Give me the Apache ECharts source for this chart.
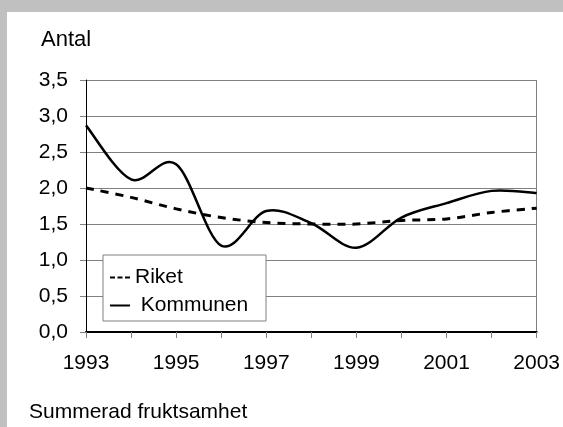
<!DOCTYPE html>
<html>
<head>
<meta charset="utf-8">
<title>Summerad fruktsamhet</title>
<script src="https://cdn.jsdelivr.net/npm/echarts@6/dist/echarts.min.js"></script>
<style>
html, body {
	margin: 0;
	padding: 0;
	background: #c0c0c0;
}
#chart {
	width: 563px;
	height: 427px;
}
</style>
</head>
<body>
<div id="chart"></div>
<script type="text/javascript">
    // år på x-axeln
    var years = ['1993', '1994', '1995', '1996', '1997', '1998', '1999', '2000', '2001', '2002', '2003'];
    // avlästa värden
    var riket = [2.00, 1.87, 1.71, 1.59, 1.52, 1.50, 1.50, 1.55, 1.57, 1.66, 1.72];
    var kommunen = [2.87, 2.12, 2.33, 1.20, 1.68, 1.51, 1.17, 1.59, 1.79, 1.96, 1.93];
    var seriesNames = ['Riket', 'Kommunen'];

    var font = 'Liberation Sans, Arial, sans-serif';
    var myChart = echarts.init(document.getElementById('chart'));

    // mjuk kurva som i Excel (Catmull-Rom, 1/6)
    function smoothLine(values, dash, width) {
        return function (params, api) {
            if (params.dataIndex !== 0) return null;
            var pts = values.map(function (v, i) { return api.coord([i, v]); });
            var d = 'M' + pts[0][0] + ',' + pts[0][1];
            for (var i = 0; i < pts.length - 1; i++) {
                var p0 = pts[i - 1] || pts[i];
                var p1 = pts[i];
                var p2 = pts[i + 1];
                var p3 = pts[i + 2] || p2;
                var c1x = p1[0] + (p2[0] - p0[0]) / 6;
                var c1y = p1[1] + (p2[1] - p0[1]) / 6;
                var c2x = p2[0] - (p3[0] - p1[0]) / 6;
                var c2y = p2[1] - (p3[1] - p1[1]) / 6;
                d += 'C' + c1x + ',' + c1y + ',' + c2x + ',' + c2y + ',' + p2[0] + ',' + p2[1];
            }
            return {
                type: 'path',
                shape: {pathData: d},
                style: {fill: 'none', stroke: '#000', lineWidth: width, lineDash: dash}
            };
        };
    }

    option = {
        backgroundColor: '#c0c0c0',
        animation: false,
        graphic: [{
            type: 'rect',
            z: 0,
            shape: {x: 7, y: 12, width: 556, height: 415},
            style: {fill: '#ffffff'}
        }, {
            type: 'text',
            left: 41,
            top: 29,
            style: {text: 'Antal', font: '22px ' + font, fill: '#000'}
        }, {
            type: 'text',
            left: 29,
            top: 402,
            style: {text: 'Summerad fruktsamhet', font: '21px ' + font, fill: '#000'}
        }, {
            type: 'rect',
            z: 5,
            shape: {x: 103, y: 255, width: 163, height: 66},
            style: {fill: '#ffffff', stroke: '#808080', lineWidth: 1}
        }],
        legend: {
            z: 6,
            orient: 'vertical',
            left: 110,
            top: 267,
            padding: 0,
            itemGap: 7,
            itemWidth: 20,
            itemHeight: 20,
            data: [{
                name: seriesNames[0],
                icon: 'path://M0,9h5v2h-5z M7.5,9h5v2h-5z M15,9h5v2h-5z'
            }, {
                name: seriesNames[1],
                icon: 'path://M0,9h20v2h-20z'
            }],
            formatter: function (name) {
                return name === 'Kommunen' ? ' ' + name : name;
            },
            textStyle: {fontSize: 21, fontFamily: font, color: '#000'}
        },
        grid: {left: 86, top: 80, right: 25, bottom: 95, containLabel: false},
        xAxis: {
            type: 'category',
            data: years,
            boundaryGap: false,
            axisLine: {lineStyle: {color: '#000', width: 2}},
            axisTick: {show: true, interval: 0, length: 6, lineStyle: {color: '#808080'}},
            axisLabel: {interval: 1, margin: 21, fontSize: 21, fontFamily: font, color: '#000'},
            splitLine: {
                show: true,
                interval: function (index) { return index === years.length - 1; },
                lineStyle: {color: '#808080', width: 1}
            }
        },
        yAxis: {
            type: 'value',
            min: 0,
            max: 3.5,
            interval: 0.5,
            axisLine: {show: true, lineStyle: {color: '#000', width: 1}},
            axisTick: {show: true, length: 6, lineStyle: {color: '#808080'}},
            axisLabel: {
                margin: 18,
                fontSize: 21,
                fontFamily: font,
                color: '#000',
                formatter: function (v) { return v.toFixed(1).replace('.', ','); }
            },
            splitLine: {lineStyle: {color: '#808080', width: 1}}
        },
        series: [{
            name: seriesNames[0],
            type: 'custom',
            data: riket.map(function (v, i) { return [i, v]; }),
            renderItem: smoothLine(riket, [8, 7], 3),
            z: 3,
            itemStyle: {color: '#000'}
        }, {
            name: seriesNames[1],
            type: 'custom',
            data: kommunen.map(function (v, i) { return [i, v]; }),
            renderItem: smoothLine(kommunen, null, 2.5),
            z: 4,
            itemStyle: {color: '#000'}
        }]
    };

    myChart.setOption(option);
</script>
</body>
</html>
